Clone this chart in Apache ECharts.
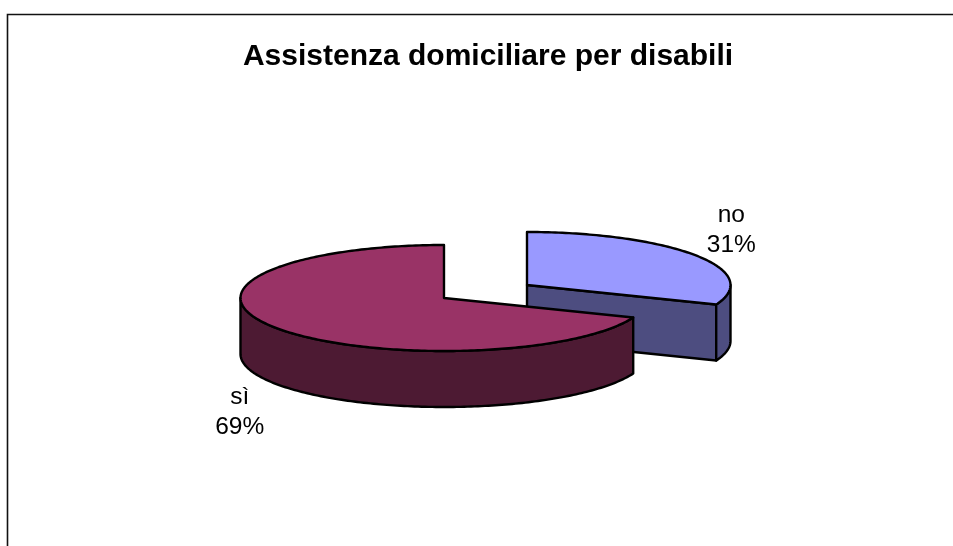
<!DOCTYPE html>
<html>
<head>
<meta charset="utf-8">
<style>html,body{margin:0;padding:0;background:#fff}#c{width:953px;height:546px}</style>
<script src="https://cdn.jsdelivr.net/npm/echarts@6/dist/echarts.min.js"></script>
</head>
<body>
<div id="c"></div>
<script>
var titleText = 'Assistenza domiciliare per disabili';
var categories = ['no', 'sì'];
var values = [31, 69];
var topColors = ['#9999FF', '#993366'];
var sideColors = ['#4D4D80', '#4D1A33'];

// layout of the tilted pie (not data)
var centers = [[527, 285], [444, 298]];
var labelOffsets = [[36, -24.5], [-36, 84]];
var RX = 203.5, RY = 53, DEPTH = 56, STEP = 1;
var FONT = '"Liberation Sans", Arial, sans-serif';

var total = values.reduce(function (a, b) { return a + b; }, 0);

function pt(c, deg, dy) {
  var r = deg * Math.PI / 180;
  return [c[0] + RX * Math.sin(r), c[1] - RY * Math.cos(r) + (dy || 0)];
}
function arc(c, a0, a1, dy) {
  var out = [], n = Math.max(1, Math.ceil(Math.abs(a1 - a0) / STEP));
  for (var i = 0; i <= n; i++) out.push(pt(c, a0 + (a1 - a0) * i / n, dy));
  return out;
}
function poly(points, fill) {
  return {
    type: 'polygon',
    shape: { points: points },
    style: { fill: fill, stroke: '#000', lineWidth: 2.4, lineJoin: 'round' }
  };
}
function renderSlice(params, api) {
  var i = params.dataIndex;
  var start = 0;
  for (var k = 0; k < i; k++) start += values[k];
  var a0 = start / total * 360;
  var a1 = (start + values[i]) / total * 360;
  var c = centers[i];
  var children = [];
  var below = [c[0], c[1] + DEPTH];

  // cut faces seen from the front
  if (a0 > 180 && a0 < 360) {
    var s = pt(c, a0);
    children.push(poly([c, s, [s[0], s[1] + DEPTH], below], sideColors[i]));
  }
  if (a1 > 0 && a1 < 180) {
    var e = pt(c, a1);
    children.push(poly([c, e, [e[0], e[1] + DEPTH], below], sideColors[i]));
  }
  // outer wall (front half of the rim)
  var w0 = Math.max(a0, 90), w1 = Math.min(a1, 270);
  if (w1 > w0) {
    children.push(poly(arc(c, w0, w1, 0).concat(arc(c, w1, w0, DEPTH)), sideColors[i]));
  }
  // top
  children.push(poly([c].concat(arc(c, a0, a1, 0)), topColors[i]));

  // label
  var mid = (a0 + a1) / 2;
  var m = pt(c, mid);
  children.push({
    type: 'text',
    style: {
      x: m[0] + labelOffsets[i][0],
      y: m[1] + labelOffsets[i][1],
      text: categories[i] + '\n' + Math.round(values[i] / total * 100) + '%',
      fill: '#000',
      font: '24.5px ' + FONT,
      lineHeight: 30,
      align: 'center',
      verticalAlign: 'middle'
    }
  });
  return { type: 'group', children: children };
}

var chart = echarts.init(document.getElementById('c'), null, { renderer: 'canvas' });
chart.setOption({
  animation: false,
  backgroundColor: '#fff',
  title: {
    text: titleText,
    left: 483,
    top: 37,
    textAlign: 'center',
    textStyle: { fontFamily: FONT, fontWeight: 'bold', fontSize: 30, color: '#000' }
  },
  graphic: [
    { type: 'polyline', silent: true,
      shape: { points: [[7.5, 546], [7.5, 14.5], [953, 14.5]] },
      style: { fill: null, stroke: '#111', lineWidth: 1.6 } }
  ],
  series: [{
    type: 'custom',
    coordinateSystem: 'none',
    renderItem: renderSlice,
    data: values.map(function (v, i) { return { name: categories[i], value: v }; })
  }]
});
</script>
</body>
</html>
